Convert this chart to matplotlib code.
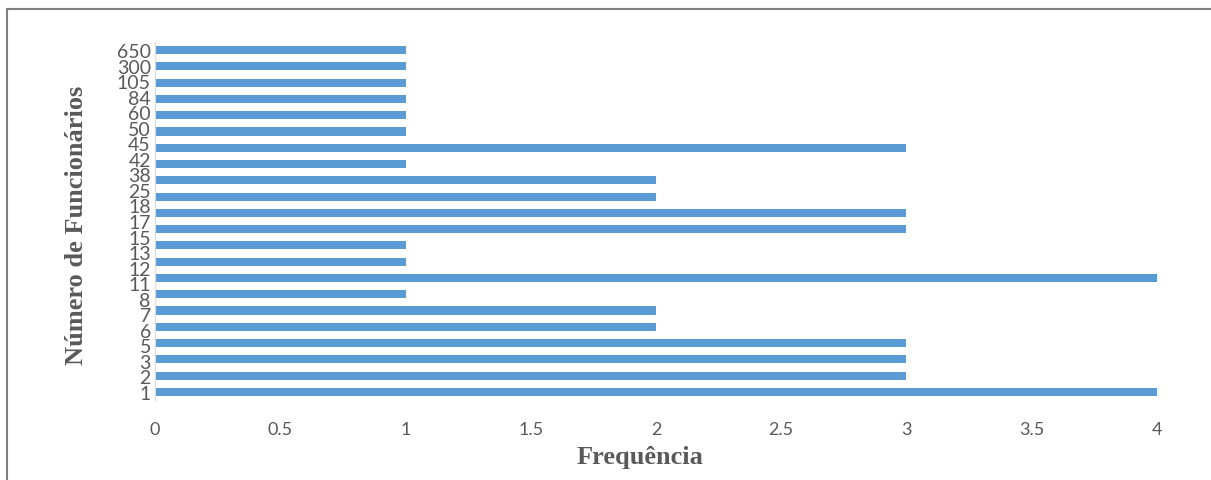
import numpy as np
import matplotlib.pyplot as plt
from matplotlib.lines import Line2D

# Número de funcionários (categorias) e frequência de cada uma
labels = ['1', '2', '3', '5', '6', '7', '8', '11', '12', '13', '15', '17',
          '18', '25', '38', '42', '45', '50', '60', '84', '105', '300', '650']
freq = [4, 3, 3, 3, 2, 2, 1, 4, 1, 1, 3, 3, 2, 2, 1, 3, 1, 1, 1, 1, 1, 1]
xticks = [0, 0.5, 1, 1.5, 2, 2.5, 3, 3.5, 4]

fig = plt.figure(figsize=(12.11, 4.81), dpi=100)
ax = fig.add_axes([0.128, 0.1663, 0.8274, 0.7443])

pos = np.arange(len(freq))
ax.barh(pos, freq, height=0.5, color='#5B9BD5')
ax.set_ylim(-0.5, len(freq) - 0.5)
ax.set_xlim(0, 4)

ax.set_xticks(xticks)
ax.set_xticklabels([f'{t:g}' for t in xticks], fontsize=13, color='#595959',
                   family='Lato')
ax.set_yticks(np.linspace(0, len(freq) - 1, len(labels)))
ax.set_yticklabels(labels, fontsize=14, color='#595959', family='Lato')
ax.tick_params(axis='both', length=0)
ax.tick_params(axis='x', pad=15)
ax.tick_params(axis='y', pad=3)

for s in ['top', 'right', 'bottom']:
    ax.spines[s].set_visible(False)
ax.spines['left'].set_color('#D9D9D9')

ax.set_xlabel('Frequência', fontsize=19, fontweight='bold', color='#595959',
              family='Liberation Serif')
ax.xaxis.set_label_coords(0.484, -0.125)
ax.set_ylabel('Número de Funcionários', fontsize=19, fontweight='bold',
              color='#595959', family='Liberation Serif')
ax.yaxis.set_label_coords(-0.067, 0.49)

# moldura externa do gráfico
fig.add_artist(Line2D([7 / 1211, 1], [1 - 10 / 481] * 2,
                      transform=fig.transFigure, color='#7F7F7F', lw=1.5))
fig.add_artist(Line2D([7 / 1211] * 2, [0, 1 - 10 / 481],
                      transform=fig.transFigure, color='#7F7F7F', lw=1.5))

fig.savefig('out.png', dpi=100)
